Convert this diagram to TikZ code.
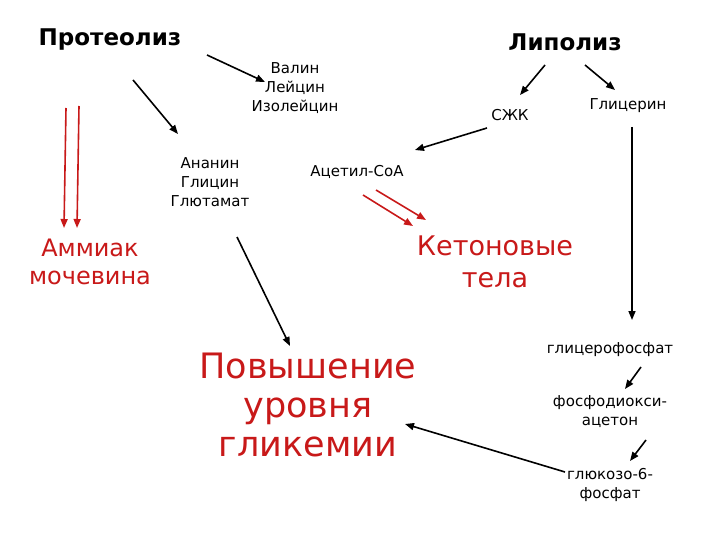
\documentclass[tikz,border=0pt]{standalone}
\usepackage{fontspec}
\setmainfont{DejaVu Sans}
\usetikzlibrary{arrows.meta}
\definecolor{dred}{RGB}{200,25,25}
\begin{document}
\begin{tikzpicture}[x=1pt,y=-1pt,
 lbl/.style={align=center,inner sep=1pt,font=\fontsize{15}{19}\selectfont},
 big/.style={align=center,inner sep=1pt,font=\fontsize{23}{26}\selectfont\bfseries},
 redt/.style={align=center,inner sep=1pt,text=dred},
 arr/.style={-{Triangle[length=9pt,width=7pt]},line width=1.6pt},
 rarr/.style={arr,draw=dred}]
\useasboundingbox (0,0) rectangle (720,540);
\node[big] (prot) at (110,40) {Протеолиз};
\node[big] (lip) at (565,42) {Липолиз};
\node[lbl] (val) at (295,88) {Валин\\Лейцин\\Изолейцин};
\node[lbl] (szk) at (510,115) {СЖК};
\node[lbl] (gli) at (628,106) {Глицерин};
\node[lbl] (ala) at (210,182) {Ананин\\Глицин\\Глютамат};
\node[lbl] (acet) at (357,172) {Ацетил-СоА};
\node[redt,font=\fontsize{24}{28}\selectfont] (amm) at (90,262) {Аммиак\\мочевина};
\node[redt,font=\fontsize{27}{32}\selectfont] (ket) at (495,262) {Кетоновые\\тела};
\node[redt,font=\fontsize{35}{39}\selectfont] (pov) at (308,405) {Повышение\\уровня\\гликемии};
\node[lbl] (gf) at (610,350) {глицерофосфат};
\node[lbl] (fda) at (610,412) {фосфодиокси-\\ацетон};
\node[lbl] (g6f) at (610,485) {глюкозо-6-\\фосфат};
\coordinate (p1) at (207,55); \coordinate (p2) at (133,80);
\coordinate (r1) at (66,108); \coordinate (r1e) at (64,228);
\coordinate (r2) at (79,106); \coordinate (r2e) at (77,228);
\coordinate (l1) at (545,65); \coordinate (l2) at (585,65);
\coordinate (s1) at (487,128);
\coordinate (k1) at (363,195); \coordinate (k1e) at (413,226);
\coordinate (k2) at (376,190); \coordinate (k2e) at (426,220);
\coordinate (a1) at (237,237); \coordinate (g1) at (632,127);
\draw[arr] (p1) -- (265,82);
\draw[arr] (p2) -- (178,134);
\draw[rarr] (r1) -- (r1e);
\draw[rarr] (r2) -- (r2e);
\draw[arr] (l1) -- (520,95);
\draw[arr] (l2) -- (615,90);
\draw[arr] (s1) -- (415,150);
\draw[rarr] (k1) -- (k1e);
\draw[rarr] (k2) -- (k2e);
\draw[arr] (a1) -- (290,346);
\draw[arr] (g1) -- (632,320);
\draw[arr] (641,367) -- (625,389);
\draw[arr] (646,440) -- (630,461);
\draw[arr] (565,472) -- (405,424);
\end{tikzpicture}
\end{document}
